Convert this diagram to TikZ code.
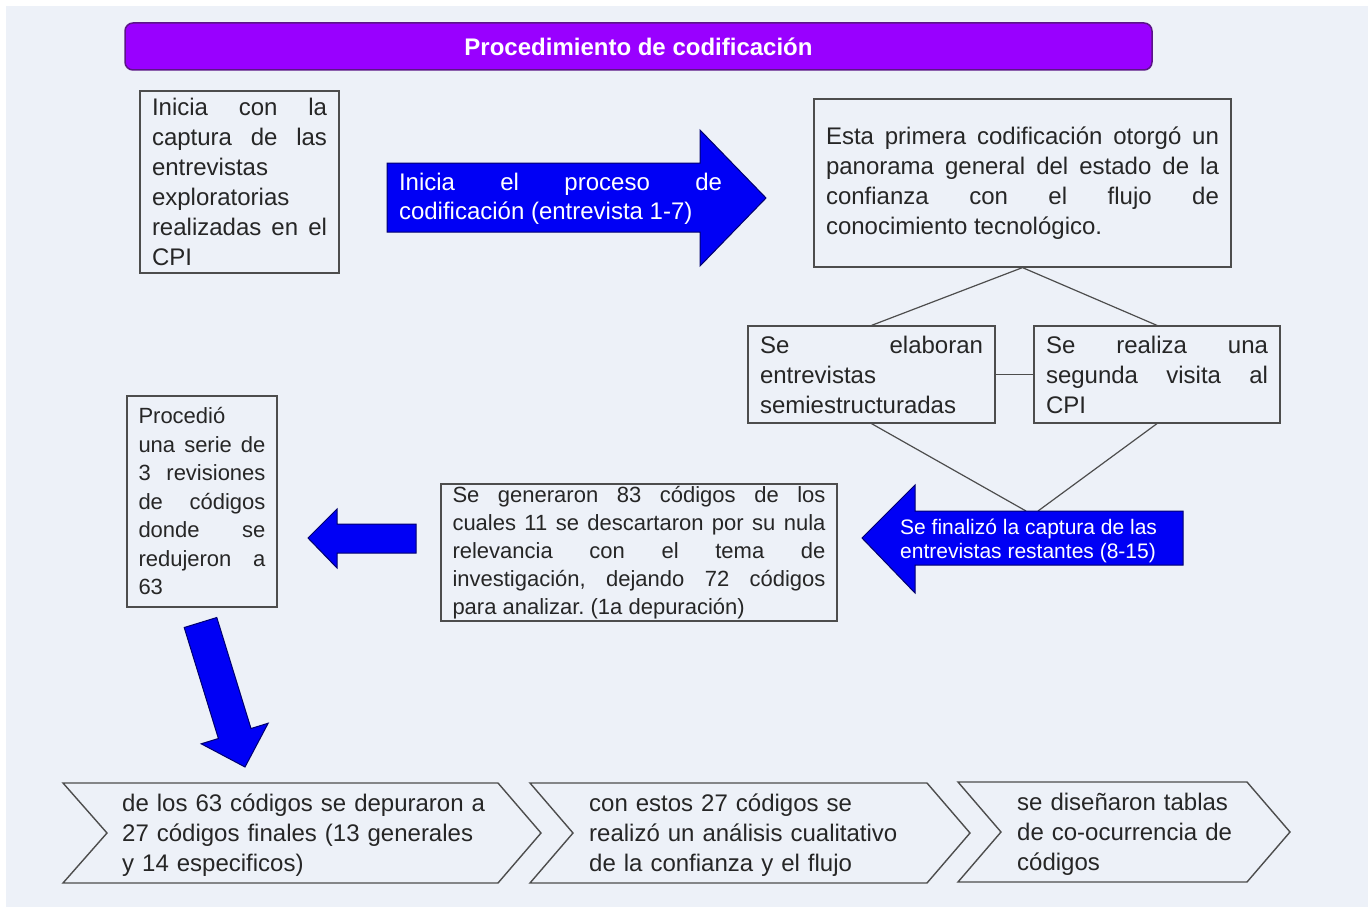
\documentclass[tikz,border=0pt]{standalone}
\usepackage{fontspec}
\setmainfont{Liberation Sans}
\frenchspacing
\definecolor{panel}{HTML}{EDF1F8}
\definecolor{titlefill}{HTML}{9900FF}
\definecolor{titleedge}{HTML}{5B1487}
\definecolor{arrowblue}{HTML}{0000F5}
\definecolor{arrowedge}{HTML}{00006E}
\definecolor{edge}{HTML}{4D4D4D}
\definecolor{ink}{HTML}{262626}
\newcommand{\txtL}{\fontsize{24}{30}\selectfont}
\newcommand{\txtLa}{\fontsize{24}{29}\selectfont}
\newcommand{\txtM}{\fontsize{22}{28}\selectfont}
\newcommand{\txtMb}{\fontsize{22}{28.5}\selectfont}
\newcommand{\txtS}{\fontsize{21}{24}\selectfont}
\begin{document}
\begin{tikzpicture}[x=1pt,y=-1pt,
  loose/.style={align=justify,
    execute at begin node={\tolerance=10000\hbadness=10000\frenchspacing}},
  box/.style={draw=edge, line width=1.2pt, text=ink, inner sep=0pt, font=\txtL, loose},
  titlebar/.style={draw=titleedge, line width=1.5pt, fill=titlefill, rounded corners=8pt,
    text=white, font=\bfseries\txtL, inner sep=0pt},
  blockarrow/.style={fill=arrowblue, draw=arrowedge, line width=1pt, line join=miter},
  arrowtext/.style={text=white, inner sep=0pt},
  link/.style={draw=edge, line width=1.2pt},
  chev/.style={draw=edge, line width=1.4pt, line join=miter},
  chevtext/.style={text=ink, font=\txtL, inner sep=0pt, align=left, anchor=west}]

% page and panel
\fill[white] (0,0) rectangle (1368,907);
\fill[panel] (6,6) rectangle (1368,907);
\useasboundingbox (0,0) rectangle (1368,907);

% heading
\node[titlebar, minimum width=1027, minimum height=47] (title) at (638.5,46.5)
  {Procedimiento de codificación};

% upper row
\node[box, minimum width=199, minimum height=182, text width=175] (start) at (239.5,182)
  {Inicia con la\linebreak captura de las\linebreak entrevistas\\ exploratorias\\ realizadas en el\linebreak CPI};

\node[box, minimum width=417, minimum height=168, text width=393] (first) at (1022.5,183)
  {Esta primera codificación otorgó un\linebreak panorama general del estado de la\linebreak confianza con el flujo de\linebreak conocimiento tecnológico.};

% two parallel activities
\node[box, minimum width=247, minimum height=97, text width=223] (semi) at (871.5,374.5)
  {Se elaboran\linebreak entrevistas\\ semiestructuradas};
\node[box, minimum width=246, minimum height=97, text width=222] (visit) at (1157,374.5)
  {Se realiza una\linebreak segunda visita al\linebreak CPI};

% middle row
\node[box, font=\txtM, minimum width=396, minimum height=137, text width=373] (codes) at (639,552.5)
  {Se generaron 83 códigos de los\linebreak cuales 11 se descartaron por su nula\linebreak relevancia con el tema de\linebreak investigación, dejando 72 códigos\linebreak para analizar. (1a depuración)};

\node[box, font=\txtMb, minimum width=150, minimum height=211, text width=127] (review) at (202,501.5)
  {Procedió\\ una serie de\linebreak 3 revisiones\linebreak de códigos\linebreak donde se\linebreak redujeron a\linebreak 63};

% diamond of connectors
\coordinate (joinL) at (1026,511);
\coordinate (joinR) at (1038,511);
\draw[link] (first.south) -- (semi.north);
\draw[link] (first.south) -- (visit.north);
\draw[link] (semi.east) -- (visit.west);
\draw[link] (semi.south) -- (joinL);
\draw[link] (visit.south) -- (joinR);

% block arrows
\draw[blockarrow] (387,163) -- (700,163) -- (700,130) -- (766,198) -- (700,266)
  -- (700,232) -- (387,232) -- cycle;
\draw[blockarrow] (1183,511) -- (915,511) -- (915,485) -- (862,538) -- (915,593)
  -- (915,565) -- (1183,565) -- cycle;
\draw[blockarrow] (416,524) -- (337,524) -- (337,509) -- (308,538) -- (337,568)
  -- (337,553) -- (416,553) -- cycle;
\draw[blockarrow] (184.2,627.5) -- (216.8,617.5) -- (251.0,728.5) -- (268.2,723.2)
  -- (245,767) -- (201.2,743.8) -- (218.4,738.5) -- cycle;

\node[arrowtext, loose, font=\txtLa, text width=323] (codingtxt) at (560.5,199)
  {Inicia el proceso de\linebreak codificación (entrevista 1-7)};
\node[arrowtext, font=\txtS, align=left, anchor=west] (finishtxt) at (900,540.5)
  {Se finalizó la captura de las\\ entrevistas restantes (8-15)};

% bottom chevrons
\draw[chev] (63,783) -- (498,783) -- (541,833) -- (498,883) -- (63,883) -- (107,833) -- cycle;
\draw[chev] (530,783) -- (927,783) -- (970,833) -- (927,883) -- (530,883) -- (573,833) -- cycle;
\draw[chev] (958,782) -- (1247,782) -- (1290,832) -- (1247,882) -- (958,882) -- (1001,832) -- cycle;

\node[chevtext, text width=400] (final) at (122,835.5)
  {de los 63 códigos se depuraron a\\ 27 códigos finales (13 generales\\ y 14 especificos)};
\node[chevtext, text width=360] (analysis) at (589,835.5)
  {con estos 27 códigos se\\ realizó un análisis cualitativo\\ de la confianza y el flujo};
\node[chevtext, text width=260] (tables) at (1017,834)
  {se diseñaron tablas\\ de co-ocurrencia de\\ códigos};

\end{tikzpicture}
\end{document}
